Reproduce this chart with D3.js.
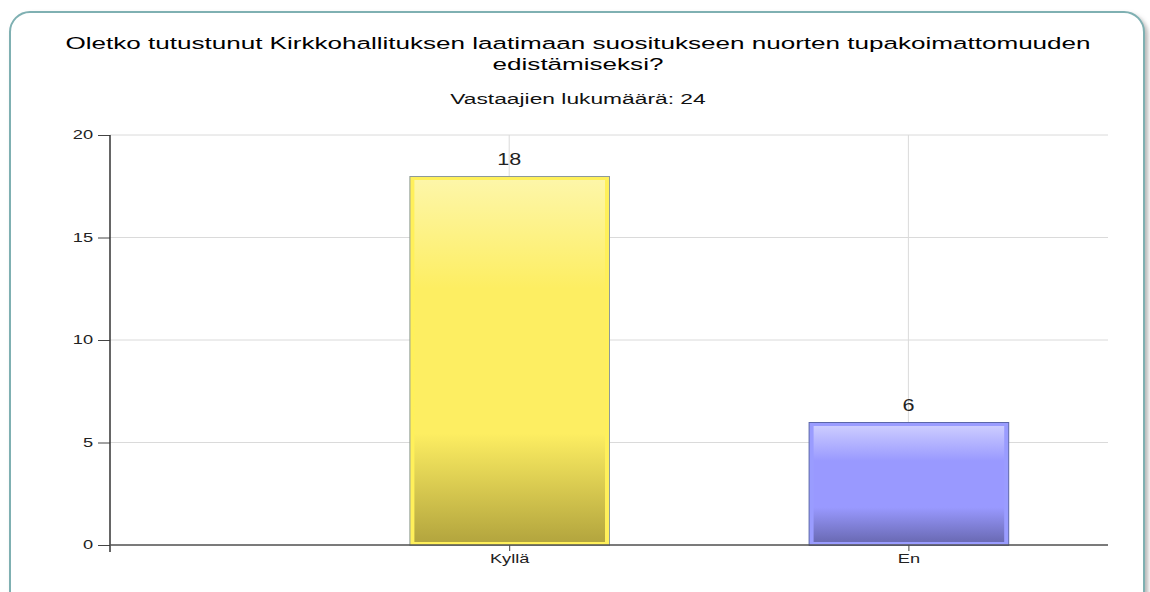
<!DOCTYPE html>
<html>
<head>
<meta charset="utf-8">
<script src="https://cdn.jsdelivr.net/npm/d3@7"></script>
<style>
  body { margin: 0; background: #fff; }
  svg { display: block; font-family: "Liberation Sans", Arial, sans-serif; }
</style>
</head>
<body>
<script>
const categories = ["Kyllä", "En"];
const values = [18, 6];
const yTicks = [0, 5, 10, 15, 20];
const titleLines = [
  "Oletko tutustunut Kirkkohallituksen laatimaan suositukseen nuorten tupakoimattomuuden",
  "edistämiseksi?"
];
const subtitle = "Vastaajien lukumäärä: 24";

const W = 1150, H = 592;
const SX = 1.52; // the original picture is stretched horizontally
const svg = d3.select("body").append("svg").attr("width", W).attr("height", H);
const defs = svg.append("defs");

// drop shadow for the frame
const f = defs.append("filter").attr("id", "shadow").attr("x", "-5%").attr("y", "-5%").attr("width", "110%").attr("height", "110%");
f.append("feDropShadow").attr("dx", 3).attr("dy", 3).attr("stdDeviation", 2).attr("flood-color", "#888").attr("flood-opacity", 0.6);

svg.append("rect")
  .attr("x", 10).attr("y", 12)
  .attr("width", 1134).attr("height", 620)
  .attr("rx", 20).attr("ry", 20)
  .attr("fill", "#fff")
  .attr("stroke", "#7fb0b2")
  .attr("stroke-width", 2)
  .attr("filter", "url(#shadow)");

// gradients per bar
const palettes = [
  { edge: "#fff05a", stroke: "#8e9a98", stops: ["#fdf6a8", "#fdee62", "#fdee62", "#b3a53e"] },
  { edge: "#9a9cff", stroke: "#5b66a8", stops: ["#ccccff", "#9999ff", "#9999ff", "#6a6ab4"] }
];
palettes.forEach((p, i) => {
  const g = defs.append("linearGradient").attr("id", "grad" + i)
    .attr("x1", 0).attr("y1", 0).attr("x2", 0).attr("y2", 1);
  [0, 0.3, 0.7, 1].forEach((o, k) => {
    g.append("stop").attr("offset", o).attr("stop-color", p.stops[k]);
  });
});

const plotL = 110, plotR = 1108, plotT = 135, plotB = 545;
const x = d3.scaleLinear().domain([0, 2.5]).range([plotL, plotR]);
const y = d3.scaleLinear().domain([0, 20]).range([plotB, plotT]);
const barW = (x(1) - x(0)) / 2;

// title
svg.append("g").selectAll("text").data(titleLines).join("text")
  .attr("transform", (d, i) => `translate(578,${49 + i * 21}) scale(1.58,1)`)
  .attr("text-anchor", "middle")
  .attr("font-size", "16.5px")
  .attr("fill", "#000")
  .text(d => d);
svg.append("text")
  .attr("transform", `translate(578,104) scale(${SX},1)`)
  .attr("text-anchor", "middle")
  .attr("font-size", "15px")
  .attr("fill", "#111")
  .text(subtitle);

// grid
svg.append("g").selectAll("line").data(yTicks).join("line")
  .attr("x1", plotL).attr("x2", plotR)
  .attr("y1", d => y(d)).attr("y2", d => y(d))
  .attr("stroke", "#dadada");
svg.append("g").selectAll("line").data(categories).join("line")
  .attr("x1", (d, i) => x(i + 1)).attr("x2", (d, i) => x(i + 1))
  .attr("y1", plotT).attr("y2", plotB)
  .attr("stroke", "#dadada");

// bars
const bars = svg.append("g").selectAll("g").data(values).join("g");
bars.append("rect")
  .attr("x", (d, i) => x(i + 1) - barW / 2 + 0.5)
  .attr("y", d => y(d) + 0.5)
  .attr("width", barW)
  .attr("height", d => plotB - y(d))
  .attr("fill", (d, i) => palettes[i].edge)
  .attr("stroke", (d, i) => palettes[i].stroke);
bars.append("rect")
  .attr("x", (d, i) => x(i + 1) - barW / 2 + 5)
  .attr("y", d => y(d) + 4)
  .attr("width", barW - 9)
  .attr("height", d => plotB - y(d) - 7)
  .attr("fill", (d, i) => "url(#grad" + i + ")");
bars.append("text")
  .attr("transform", (d, i) => `translate(${x(i + 1)},${y(d) - 11}) scale(1.35,1)`)
  .attr("text-anchor", "middle")
  .attr("font-size", "16px")
  .attr("fill", "#222")
  .text(d => d);

// y axis
const yAxis = svg.append("g").attr("transform", `translate(${plotL},0)`)
  .call(d3.axisLeft(y).tickValues(yTicks).tickSize(12).tickPadding(5));
yAxis.select(".domain").remove();
yAxis.selectAll(".tick line").attr("stroke", "#444");
yAxis.selectAll(".tick text")
  .attr("font-size", "12px").attr("fill", "#222")
  .attr("font-family", "Liberation Sans, Arial, sans-serif")
  .attr("x", -17 / SX)
  .attr("transform", `scale(${SX},1)`);
svg.append("line").attr("x1", plotL).attr("x2", plotL).attr("y1", plotT).attr("y2", plotB + 7)
  .attr("stroke", "#333").attr("stroke-width", 1.5);

// x axis
const xAxis = svg.append("g").attr("transform", `translate(0,${plotB})`)
  .call(d3.axisBottom(x).tickValues([1, 2]).tickFormat(d => categories[d - 1]).tickSize(6).tickPadding(3));
xAxis.select(".domain").remove();
xAxis.selectAll(".tick line").attr("stroke", "#444");
xAxis.selectAll(".tick text")
  .attr("font-size", "12px").attr("fill", "#222")
  .attr("font-family", "Liberation Sans, Arial, sans-serif")
  .attr("transform", `scale(${SX},1)`);
svg.append("line").attr("x1", plotL).attr("x2", plotR).attr("y1", plotB).attr("y2", plotB)
  .attr("stroke", "#555").attr("stroke-width", 1.5);
</script>
</body>
</html>
